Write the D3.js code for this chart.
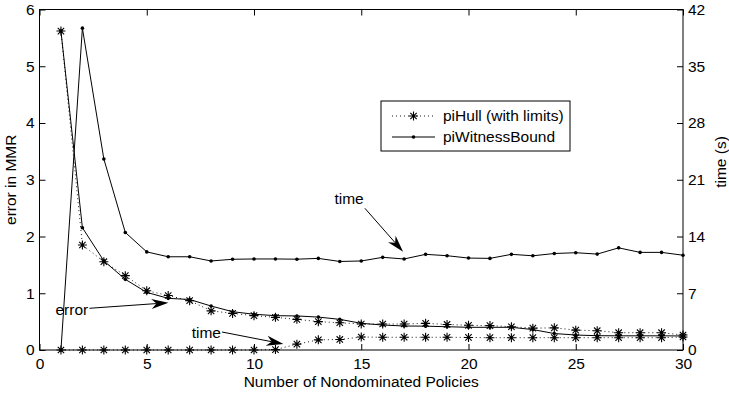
<!DOCTYPE html>
<html>
<head>
<meta charset="utf-8">
<script src="https://cdn.jsdelivr.net/npm/d3@7"></script>
<style>
  body { margin: 0; background: #fff; }
  svg { display: block; font-family: "Liberation Sans", Arial, Helvetica, sans-serif; }
</style>
</head>
<body>
<svg id="chart" width="729" height="393"></svg>
<script>
// number of nondominated policies
const policies = d3.range(1, 31);

// error in MMR (left axis)
const hullError = [5.62, 1.85, 1.556, 1.31, 1.045, 0.96, 0.87, 0.69, 0.645, 0.605,
  0.575, 0.54, 0.50, 0.48, 0.458, 0.458, 0.458, 0.47, 0.45, 0.435,
  0.43, 0.41, 0.385, 0.39, 0.35, 0.34, 0.305, 0.305, 0.305, 0.264];
const witnessError = [5.62, 2.155, 1.57, 1.245, 1.015, 0.91, 0.89, 0.775, 0.675, 0.63,
  0.605, 0.60, 0.58, 0.54, 0.47, 0.44, 0.423, 0.42, 0.41, 0.40,
  0.40, 0.40, 0.36, 0.29, 0.264, 0.252, 0.25, 0.25, 0.25, 0.247];

// time in seconds (right axis)
const hullTime = [0, 0, 0, 0, 0, 0, 0, 0, 0, 0,
  0.05, 0.72, 1.25, 1.3, 1.6, 1.57, 1.57, 1.57, 1.57, 1.55,
  1.52, 1.52, 1.52, 1.52, 1.52, 1.52, 1.52, 1.52, 1.52, 1.6];
const witnessTime = [0, 39.7, 23.56, 14.5, 12.1, 11.5, 11.5, 10.98, 11.19, 11.23,
  11.23, 11.2, 11.3, 10.92, 10.98, 11.43, 11.23, 11.8, 11.63, 11.34,
  11.3, 11.8, 11.62, 11.9, 12.0, 11.83, 12.6, 12.04, 12.04, 11.69];

const xTicks = [0, 5, 10, 15, 20, 25, 30];
const leftTicks = [0, 1, 2, 3, 4, 5, 6];
const rightTicks = [0, 7, 14, 21, 28, 35, 42];

const legendLabels = ["piHull (with limits)", "piWitnessBound"];

const svg = d3.select("#chart");
const plotL = 39.5, plotR = 683, plotT = 9.5, plotB = 350;

const x = d3.scaleLinear().domain([0, 30]).range([plotL, plotR]);
const yL = d3.scaleLinear().domain([0, 6]).range([plotB, plotT]);
const yR = d3.scaleLinear().domain([0, 42]).range([plotB, plotT]);

const tick = 6;
const fontSize = 15.5;

// axes
function styleAxis(g) {
  g.attr("font-family", null).attr("font-size", null);
  g.select(".domain").remove();
  g.selectAll("line").attr("stroke", "#000");
  g.selectAll("text").attr("font-size", fontSize).attr("fill", "#000");
}
svg.append("g").attr("transform", `translate(0,${plotB})`)
  .call(d3.axisBottom(x).tickValues(xTicks).tickSizeInner(-tick).tickSizeOuter(0).tickPadding(8))
  .call(styleAxis);
svg.append("g").attr("transform", `translate(0,${plotT})`)
  .call(d3.axisTop(x).tickValues(xTicks).tickSizeInner(-tick).tickSizeOuter(0).tickFormat(""))
  .call(styleAxis);
svg.append("g").attr("transform", `translate(${plotL},0)`)
  .call(d3.axisLeft(yL).tickValues(leftTicks).tickFormat(d3.format("d"))
    .tickSizeInner(-tick).tickSizeOuter(0).tickPadding(5))
  .call(styleAxis);
svg.append("g").attr("transform", `translate(${plotR},0)`)
  .call(d3.axisRight(yR).tickValues(rightTicks).tickFormat(d3.format("d"))
    .tickSizeInner(-tick).tickSizeOuter(0).tickPadding(5))
  .call(styleAxis);

svg.append("rect")
  .attr("x", plotL).attr("y", plotT)
  .attr("width", plotR - plotL).attr("height", plotB - plotT)
  .attr("fill", "none").attr("stroke", "#000").attr("stroke-width", 1);

// axis labels
svg.append("text")
  .attr("x", (plotL + plotR) / 2).attr("y", 387)
  .attr("text-anchor", "middle").attr("font-size", fontSize)
  .text("Number of Nondominated Policies");
svg.append("text")
  .attr("transform", `translate(16,${(plotT + plotB) / 2}) rotate(-90)`)
  .attr("text-anchor", "middle").attr("font-size", fontSize)
  .text("error in MMR");
svg.append("text")
  .attr("transform", `translate(725.5,162) rotate(-90)`)
  .attr("text-anchor", "middle").attr("font-size", fontSize)
  .text("time (s)");

// markers
const star = "M-4.5,0H4.5M0,-4.5V4.5M-3.2,-3.2L3.2,3.2M-3.2,3.2L3.2,-3.2";

function drawSeries(values, yScale, dotted) {
  const pts = policies.map((p, i) => [p, values[i]]);
  const line = d3.line().x(d => x(d[0])).y(d => yScale(d[1]));
  svg.append("path")
    .datum(pts)
    .attr("d", line)
    .attr("fill", "none")
    .attr("stroke", "#000")
    .attr("stroke-width", dotted ? 0.9 : 1)
    .attr("stroke-dasharray", dotted ? "1,3" : null);
  if (dotted) {
    svg.append("g").selectAll("path")
      .data(pts).join("path")
      .attr("transform", d => `translate(${x(d[0])},${yScale(d[1])})`)
      .attr("d", star)
      .attr("stroke", "#000").attr("stroke-width", 1.1).attr("fill", "none");
  } else {
    svg.append("g").selectAll("circle")
      .data(pts).join("circle")
      .attr("cx", d => x(d[0])).attr("cy", d => yScale(d[1]))
      .attr("r", 1.8).attr("fill", "#000");
  }
}

drawSeries(hullError, yL, true);
drawSeries(witnessError, yL, false);
drawSeries(hullTime, yR, true);
drawSeries(witnessTime, yR, false);

// annotations (data coordinates on the left axis)
const notes = [
  { label: "error", tx: 2.27, ty: 0.72, anchor: "end", from: [2.33, 0.735], to: [6.01, 0.833] },
  { label: "time", tx: 8.46, ty: 0.30, anchor: "end", from: [8.51, 0.317], to: [11.37, 0.106] },
  { label: "time", tx: 14.43, ty: 2.66, anchor: "middle", from: [15.17, 2.497], to: [16.95, 1.732] }
];

notes.forEach(n => {
  svg.append("text")
    .attr("x", x(n.tx)).attr("y", yL(n.ty))
    .attr("dy", "0.35em")
    .attr("text-anchor", n.anchor).attr("font-size", fontSize)
    .text(n.label);
  const x0 = x(n.from[0]), y0 = yL(n.from[1]);
  const x1 = x(n.to[0]), y1 = yL(n.to[1]);
  const ang = Math.atan2(y1 - y0, x1 - x0);
  const len = 17, half = 5, notch = 12;
  const ux = Math.cos(ang), uy = Math.sin(ang);
  const px = -uy, py = ux;
  const bx = x1 - ux * len, by = y1 - uy * len;
  const nx = x1 - ux * notch, ny = y1 - uy * notch;
  svg.append("line")
    .attr("x1", x0).attr("y1", y0).attr("x2", nx).attr("y2", ny)
    .attr("stroke", "#000").attr("stroke-width", 1);
  svg.append("path")
    .attr("d", `M${x1},${y1}L${bx + px * half},${by + py * half}L${nx},${ny}L${bx - px * half},${by - py * half}Z`)
    .attr("fill", "#000");
});

// legend
const lg = svg.append("g");
lg.append("rect")
  .attr("x", 381).attr("y", 101).attr("width", 189).attr("height", 50)
  .attr("fill", "#fff").attr("stroke", "#000").attr("stroke-width", 1);
legendLabels.forEach((label, i) => {
  const cy = 116 + i * 21;
  lg.append("line")
    .attr("x1", 392).attr("x2", 435).attr("y1", cy).attr("y2", cy)
    .attr("stroke", "#000")
    .attr("stroke-width", i === 0 ? 0.9 : 1)
    .attr("stroke-dasharray", i === 0 ? "1,3" : null);
  if (i === 0) {
    lg.append("path").attr("transform", `translate(413.5,${cy})`)
      .attr("d", star).attr("stroke", "#000").attr("stroke-width", 1.1).attr("fill", "none");
  } else {
    lg.append("circle").attr("cx", 413.5).attr("cy", cy).attr("r", 1.8).attr("fill", "#000");
  }
  lg.append("text")
    .attr("x", 443).attr("y", cy).attr("dy", "0.35em")
    .attr("font-size", fontSize)
    .text(label);
});
</script>
</body>
</html>
